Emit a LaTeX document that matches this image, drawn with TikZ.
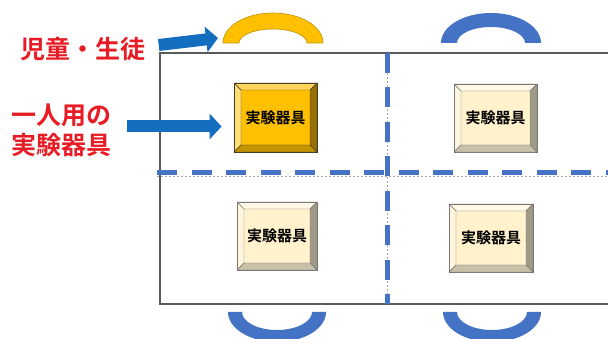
\documentclass[tikz,border=0pt]{standalone}
\usepackage{fontspec}
\newfontfamily\jpb{Noto Sans CJK JP Bold}
\usetikzlibrary{arrows.meta,calc}
\definecolor{labred}{RGB}{232,28,36}
\definecolor{arrowblue}{RGB}{20,110,192}
\definecolor{seatblue}{RGB}{68,114,196}
\definecolor{seatyellow}{RGB}{255,192,0}
\definecolor{seatyellowline}{RGB}{191,144,0}
\definecolor{frameline}{RGB}{90,90,90}
\definecolor{yface}{RGB}{255,192,0}
\definecolor{ytop}{RGB}{255,214,90}
\definecolor{yleft}{RGB}{255,222,120}
\definecolor{yright}{RGB}{150,112,0}
\definecolor{ybottom}{RGB}{196,148,0}
\definecolor{yline}{RGB}{70,60,40}
\definecolor{bface}{RGB}{255,242,204}
\definecolor{btop}{RGB}{255,248,230}
\definecolor{bleft}{RGB}{255,245,220}
\definecolor{bright}{RGB}{160,154,136}
\definecolor{bbottom}{RGB}{200,192,168}
\definecolor{bline}{RGB}{120,120,120}
\tikzset{
  bevel/.style n args={6}{
    draw=#6, line width=0.8pt, inner sep=0pt,
    path picture={
      \fill[#1] (path picture bounding box.south west) rectangle (path picture bounding box.north east);
      \filldraw[fill=#2,draw=#6,line width=0.4pt] (path picture bounding box.north west) -- (path picture bounding box.north east) -- ([shift={(-7pt,-7pt)}]path picture bounding box.north east) -- ([shift={(7pt,-7pt)}]path picture bounding box.north west) -- cycle;
      \filldraw[fill=#3,draw=#6,line width=0.4pt] (path picture bounding box.north west) -- (path picture bounding box.south west) -- ([shift={(7pt,7pt)}]path picture bounding box.south west) -- ([shift={(7pt,-7pt)}]path picture bounding box.north west) -- cycle;
      \filldraw[fill=#4,draw=#6,line width=0.4pt] (path picture bounding box.north east) -- (path picture bounding box.south east) -- ([shift={(-7pt,7pt)}]path picture bounding box.south east) -- ([shift={(-7pt,-7pt)}]path picture bounding box.north east) -- cycle;
      \filldraw[fill=#5,draw=#6,line width=0.4pt] (path picture bounding box.south west) -- (path picture bounding box.south east) -- ([shift={(-7pt,7pt)}]path picture bounding box.south east) -- ([shift={(7pt,7pt)}]path picture bounding box.south west) -- cycle;
    },
    font=\jpb\fontsize{15}{18}\selectfont, text=black
  },
  yellowbox/.style={bevel={yface}{ytop}{yleft}{yright}{ybottom}{yline}},
  beigebox/.style={bevel={bface}{btop}{bleft}{bright}{bbottom}{bline}},
  redlabel/.style={text=labred, font=\jpb\fontsize{25}{30}\selectfont, inner sep=0pt, align=center},
  blockarrow/.style={draw=arrowblue, line width=12pt, -{Triangle[length=12pt,width=25pt]}},
  bluedash/.style={draw=seatblue, line width=5pt, dash pattern=on 20pt off 14.5pt},
  thindash/.style={draw=gray!70, line width=0.6pt, dash pattern=on 2pt off 2pt},
  frame/.style={draw=frameline, line width=1.1pt},
}
\begin{document}
\begin{tikzpicture}[x=1pt,y=1pt]
\clip (0,0) rectangle (608,339);
\fill[white] (0,0) rectangle (608,339);
% room frame
\draw[frame] (160,35) rectangle (640,286);
% partition lines
\draw[thindash] (157,163) -- (612,163);
\draw[bluedash] (157,166) -- (612,166);
\draw[thindash] (387,286) -- (387,35);
\draw[bluedash] (387,286) -- (387,35);
% seats (arcs)
\filldraw[fill=seatyellow, draw=seatyellowline, line width=0.6pt]
  (223,296) arc[start angle=180,end angle=0,x radius=50,y radius=30]
  -- (307,296) arc[start angle=0,end angle=180,x radius=34,y radius=14] -- cycle;
\fill[seatblue]
  (441,296) arc[start angle=180,end angle=0,x radius=50,y radius=30]
  -- (525,296) arc[start angle=0,end angle=180,x radius=34,y radius=16] -- cycle;
\fill[seatblue]
  (228,27) arc[start angle=180,end angle=360,x radius=49,y radius=30]
  -- (312,27) arc[start angle=360,end angle=180,x radius=35,y radius=18] -- cycle;
\fill[seatblue]
  (443,27) arc[start angle=180,end angle=360,x radius=49,y radius=30]
  -- (527,27) arc[start angle=360,end angle=180,x radius=35,y radius=18] -- cycle;
\coordinate (seattip) at (218,301);
% apparatus boxes
\node[yellowbox, minimum width=83pt, minimum height=69pt] (box1) at (275.5,221.5) {実験器具};
\node[beigebox, minimum width=83pt, minimum height=68pt] (box2) at (495.5,221) {実験器具};
\node[beigebox, minimum width=80pt, minimum height=68pt] (box3) at (277,103) {実験器具};
\node[beigebox, minimum width=84pt, minimum height=68pt] (box4) at (491,101) {実験器具};
% labels
\node[redlabel] (lab1) at (83,290) {児童・生徒};
\node[redlabel] (lab2) at (62,209) {一人用の\\実験器具};
% arrows
\draw[blockarrow] ([shift={(13pt,4pt)}]lab1.east) -- (seattip);
\draw[blockarrow] ([shift={(15pt,3.5pt)}]lab2.east) -- ([shift={(-12pt,-9pt)}]box1.west);
\end{tikzpicture}
\end{document}
